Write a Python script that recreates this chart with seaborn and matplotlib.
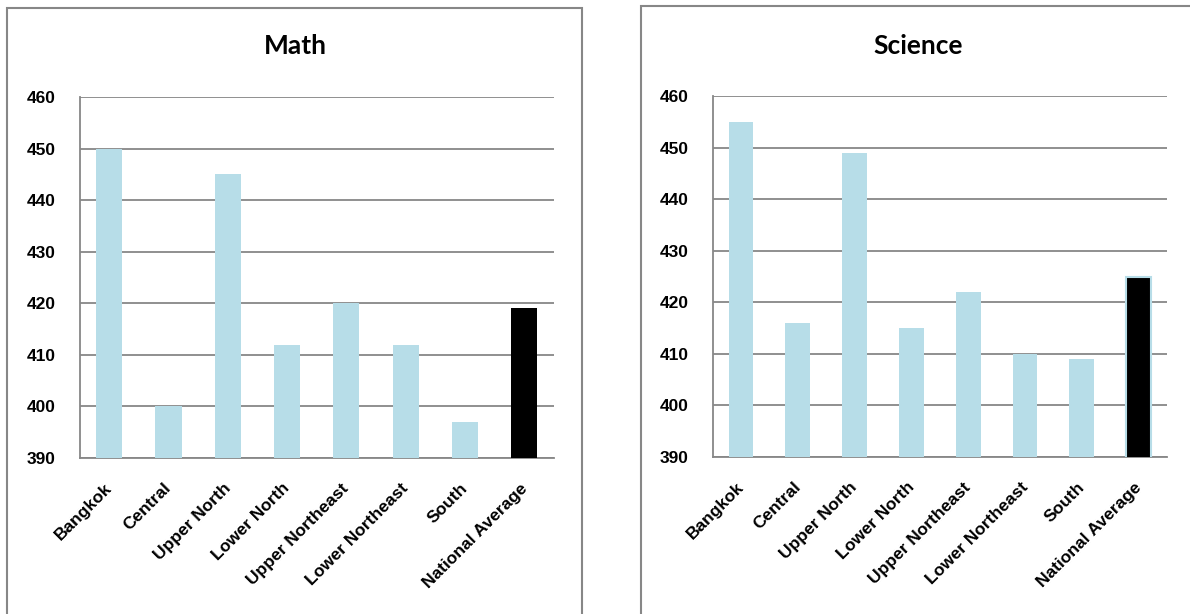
import matplotlib
matplotlib.use('Agg')
import pandas as pd
import seaborn as sns
import matplotlib.pyplot as plt
from matplotlib.patches import Rectangle
from matplotlib.transforms import ScaledTranslation

# Data
regions = ['Bangkok', 'Central', 'Upper North', 'Lower North',
           'Upper Northeast', 'Lower Northeast', 'South', 'National Average']
math_scores = [450, 400, 445, 412, 420, 412, 397, 419]
science_scores = [455, 416, 449, 415, 422, 410, 409, 425]
y_ticks = [390, 400, 410, 420, 430, 440, 450, 460]

bar_blue = '#B7DDE8'
grey = '#878787'

sns.set_theme(style='white')
plt.rcParams['font.family'] = ['Liberation Sans', 'DejaVu Sans']
plt.rcParams['text.color'] = 'black'

fig = plt.figure(figsize=(11.9, 6.14), dpi=100)

# outer chart frames (cut off by the image edge, like the original)
fig.patches.append(Rectangle((7 / 1190, -0.05), 575 / 1190, 1.05 - 8 / 614,
                             transform=fig.transFigure, fill=False,
                             edgecolor=grey, lw=1.5))
fig.patches.append(Rectangle((641 / 1190, -0.05), 0.5, 1.05 - 6 / 614,
                             transform=fig.transFigure, fill=False,
                             edgecolor=grey, lw=1.5))

panels = [
    ('Math', math_scores, [79.5 / 1190, 1 - 458 / 614, 474.5 / 1190, 361 / 614], 295 / 1190, None),
    ('Science', science_scores, [712.6 / 1190, 1 - 457 / 614, 454.4 / 1190, 361 / 614], 918 / 1190, bar_blue),
]

# small nudge of the rotated category labels (down-left)
label_shift = ScaledTranslation(-0.05, -0.06, fig.dpi_scale_trans)

for title, scores, rect, title_x, nat_edge in panels:
    ax = fig.add_axes(rect)
    df = pd.DataFrame({'region': regions, 'score': scores})
    colors = [bar_blue] * (len(regions) - 1) + ['black']
    sns.barplot(data=df, x='region', y='score', hue='region', palette=colors,
                legend=False, width=0.44, saturation=1, linewidth=0,
                ax=ax, zorder=3)
    if nat_edge is not None:
        ax.patches[-1].set_edgecolor(nat_edge)
        ax.patches[-1].set_linewidth(1.5)

    ax.set_ylim(390, 460)
    ax.set_xlim(-0.5, len(regions) - 0.5)
    ax.set_yticks(y_ticks)
    ax.yaxis.grid(True, color=grey, lw=1.3, zorder=0)
    ax.set_axisbelow(True)
    for s in ['top', 'right']:
        ax.spines[s].set_visible(False)
    for s in ['left', 'bottom']:
        ax.spines[s].set_color(grey)
        ax.spines[s].set_linewidth(1.3)

    ax.set_xlabel('')
    ax.set_ylabel('')
    ax.tick_params(axis='y', which='major', length=8, width=1.3, color=grey,
                   direction='out', pad=9, labelsize=12.5)
    ax.set_xticks([i - 0.5 for i in range(len(regions) + 1)], minor=True)
    ax.tick_params(axis='x', which='minor', length=6, width=1.3, color=grey,
                   direction='out')
    ax.tick_params(axis='x', which='major', length=0, pad=12, labelsize=12.5)
    ax.set_xticks(range(len(regions)))
    ax.set_xticklabels(regions, rotation=45, ha='right', rotation_mode='anchor')
    for lab in ax.get_xticklabels():
        lab.set_transform(lab.get_transform() + label_shift)
    for lab in ax.get_xticklabels() + ax.get_yticklabels():
        lab.set_fontweight('bold')
        lab.set_color('black')

    fig.text(title_x, 1 - 46 / 614, title, ha='center', va='center',
             fontsize=19, fontweight='bold', color='black',
             family=['Lato', 'DejaVu Sans'])

fig.savefig('out.png', dpi=100)
